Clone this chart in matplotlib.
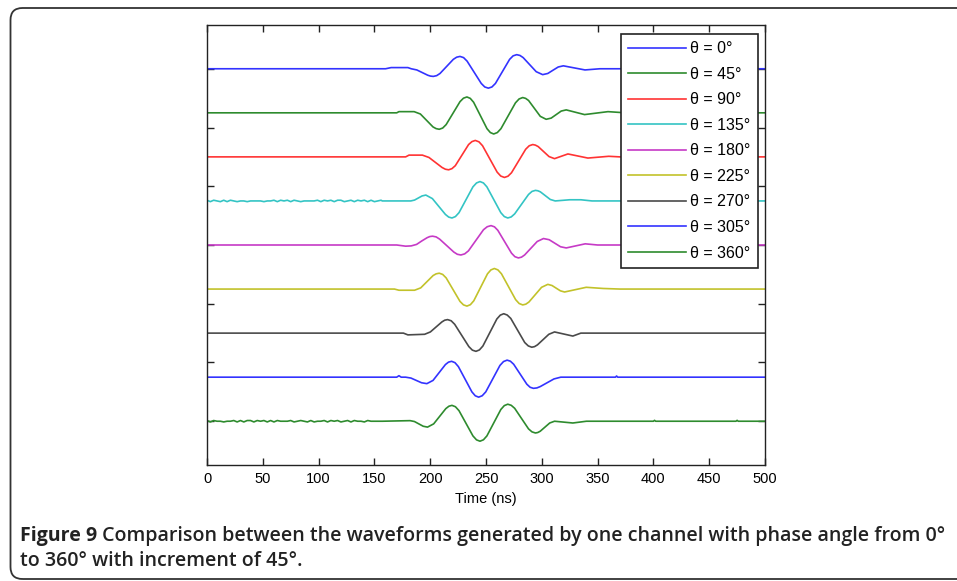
import numpy as np
import matplotlib
matplotlib.use('Agg')
import matplotlib.pyplot as plt
from matplotlib import font_manager
from matplotlib.patches import FancyBboxPatch
from matplotlib.transforms import IdentityTransform

# ---------------- data ----------------
labels = ['θ = 0°', 'θ = 45°', 'θ = 90°', 'θ = 135°', 'θ = 180°',
          'θ = 225°', 'θ = 270°', 'θ = 305°', 'θ = 360°']
offsets = [3, 2.25, 1.5, 0.75, 0, -0.75, -1.5, -2.25, -3]

t0 = [0, 160, 165, 180, 183, 188, 192.9, 197.8, 202.8, 208.8, 214.75, 220.7, 226.7, 233.05, 239.4, 245.75,
      252.1, 258.45, 264.8, 271.15, 277.5, 283.3, 289.15, 295, 300.8, 305.4, 310, 314.7, 319.3, 329, 338.7, 352, 500]
a0 = [0, 0, 0.02, 0.02, 0, -0.02, -0.065, -0.11, -0.13, -0.08, 0.04, 0.16, 0.21, 0.13, -0.06, -0.25,
      -0.33, -0.25, -0.045, 0.16, 0.24, 0.19, 0.07, -0.05, -0.10, -0.08, -0.025, 0.03, 0.05, 0.015, -0.02, 0, 0]
# shoulder points read around the crests
s0_t = [200.3, 205.8, 223.7, 229.9, 248.9, 255.3, 274.3, 280.4]
s0_a = [-0.125, -0.117, 0.197, 0.19, -0.31, -0.31, 0.22, 0.227]

t45 = [0, 170, 172, 185.6, 191.2, 196.85, 202.5, 208.1, 214.3, 220.5, 226.7, 232.9, 238.9, 244.9, 250.9, 256.9,
       263.4, 269.9, 276.4, 282.9, 288.15, 293.4, 298.65, 303.9, 308.4, 312.9, 317.4, 321.9, 330.1, 338.3,
       348.8, 359.3, 375, 500]
a45 = [0, 0, 0.02, 0.02, -0.02, -0.13, -0.24, -0.28, -0.20, -0.005, 0.19, 0.27, 0.18, -0.045, -0.27, -0.36,
       -0.27, -0.05, 0.17, 0.26, 0.21, 0.075, -0.06, -0.11, -0.09, -0.03, 0.03, 0.05, 0.01, -0.03,
       -0.005, 0.02, 0, 0]
s45_t = [205.3, 211.2, 229.8, 235.9, 253.9, 260.15, 279.65, 285.5]
s45_a = [-0.269, -0.259, 0.249, 0.246, -0.336, -0.336, 0.236, 0.246]

t90 = [0, 178, 181, 193, 198.9, 204.75, 210.6, 216.5, 222.5, 228.45, 234.4, 240.4, 246.9, 253.45, 260, 266.5,
       272.85, 279.2, 285.55, 291.9, 296.8, 301.65, 306.5, 311.4, 317.4, 323.4, 332.35, 341.3, 360, 370, 500]
a90 = [0, 0, 0.03, 0.03, -0.01, -0.095, -0.18, -0.22, -0.15, 0.03, 0.21, 0.28, 0.19, -0.035, -0.26, -0.35,
       -0.27, -0.07, 0.13, 0.21, 0.175, 0.09, 0.005, -0.03, 0.01, 0.05, 0.015, -0.02, 0.01, 0, 0]
s90_t = [213.6, 219.5, 237.4, 243.7, 263.2, 269.7, 288.7, 294.3]
s90_a = [-0.21, -0.20, 0.26, 0.256, -0.326, -0.329, 0.189, 0.20]

t135 = [157, 182.6, 186, 189.35, 192.7, 196.1, 201.95, 207.8, 213.65, 219.5, 225.8, 232.05, 238.3, 244.6,
        250.8, 257.05, 263.3, 269.5, 275.7, 281.9, 288.1, 294.3, 298.7, 303.15, 307.6, 312, 325, 335, 345, 500]
a135 = [0, 0, 0.015, 0.05, 0.085, 0.10, 0.04, -0.095, -0.23, -0.29, -0.20, 0.02, 0.24, 0.33,
        0.24, 0.02, -0.20, -0.29, -0.22, -0.055, 0.11, 0.18, 0.155, 0.09, 0.025, 0, 0.02, 0.02, 0, 0]
s135_t = [216.6, 222.6, 241.5, 247.7, 266.4, 272.6, 291.2, 296.5]
s135_a = [-0.275, -0.266, 0.306, 0.306, -0.266, -0.272, 0.162, 0.173]

t180 = [0, 170, 178, 183, 187.8, 192.55, 197.3, 202.1, 208.45, 214.8, 221.15, 227.5, 234.25, 241, 247.75, 254.5,
        260.6, 266.75, 272.9, 279, 284.6, 290.25, 295.9, 301.5, 306.6, 311.7, 316.8, 321.9, 330.4, 338.9, 350, 500]
a180 = [0, 0, -0.02, -0.015, 0.01, 0.07, 0.125, 0.15, 0.10, -0.01, -0.12, -0.17, -0.10, 0.08, 0.26, 0.33,
        0.25, 0.055, -0.14, -0.22, -0.17, -0.055, 0.06, 0.11, 0.09, 0.03, -0.03, -0.05, -0.015, 0.02, 0, 0]
s180_t = [199.7, 205.3, 224.3, 230.9, 251.1, 257.6, 275.9, 281.8]
s180_a = [0.144, 0.138, -0.158, -0.151, 0.311, 0.309, -0.199, -0.207]

t225 = [0, 168, 172, 186, 191.5, 197.05, 202.6, 208.1, 214.3, 220.5, 226.7, 232.9, 239.05, 245.2, 251.35, 257.5,
        263.85, 270.2, 276.55, 282.9, 288.5, 294.15, 299.8, 305.4, 309.2, 312.9, 316.65, 320.4, 330.1, 339.8,
        355, 370, 500]
a225 = [0, 0, -0.02, -0.02, 0.02, 0.125, 0.23, 0.27, 0.19, -0.01, -0.21, -0.29, -0.20, 0.03, 0.26, 0.35,
        0.26, 0.04, -0.18, -0.27, -0.22, -0.095, 0.03, 0.08, 0.06, 0.015, -0.03, -0.05, -0.01, 0.03,
        0.01, 0, 0]
s225_t = [205.3, 211.2, 229.8, 236.0, 254.4, 260.7, 279.7, 285.7]
s225_a = [0.259, 0.249, -0.269, -0.266, 0.326, 0.326, -0.246, -0.257]

t270 = [0, 176, 180, 195, 200.15, 205.3, 210.45, 215.6, 221.95, 228.3, 234.65, 241, 247.2, 253.45, 259.7, 265.9,
        272.2, 278.45, 284.7, 291, 296.1, 301.2, 306.3, 311.4, 319.6, 327.8, 335, 500]
a270 = [0, 0, -0.03, -0.02, 0.02, 0.105, 0.19, 0.23, 0.15, -0.04, -0.23, -0.31, -0.22, 0.01, 0.24, 0.33,
        0.25, 0.045, -0.16, -0.24, -0.20, -0.11, -0.02, 0.02, -0.015, -0.05, 0, 0]
s270_t = [213.0, 218.8, 237.8, 244.1, 262.8, 269.0, 287.9, 293.5]
s270_a = [0.22, 0.21, -0.29, -0.286, 0.306, 0.308, -0.218, -0.23]

t305 = [0, 170, 172, 174, 178, 182.75, 187.5, 192.25, 197, 202.55, 208.1, 213.65, 219.2, 225.25, 231.3, 237.35,
        243.4, 249.8, 256.15, 262.5, 268.9, 274.8, 280.7, 286.6, 292.5, 298.6, 304.75, 310.9, 317, 366, 367, 368, 500]
a305 = [0, 0, 0.025, 0, 0, -0.015, -0.055, -0.095, -0.11, -0.055, 0.08, 0.215, 0.27, 0.18, -0.035, -0.25,
        -0.34, -0.25, -0.025, 0.20, 0.29, 0.22, 0.05, -0.12, -0.19, -0.16, -0.095, -0.03, 0, 0, 0.02, 0, 0]
s305_t = [216.4, 222.2, 240.4, 246.6, 265.7, 271.85, 289.55, 295.6]
s305_a = [0.256, 0.247, -0.317, -0.316, 0.266, 0.272, -0.172, -0.183]

t360 = [157, 182, 185.9, 189.8, 193.7, 197.6, 203.1, 208.55, 214, 219.5, 225.8, 232.05, 238.3, 244.6,
        250.8, 257.05, 263.3, 269.5, 275.7, 281.9, 288.1, 294.3, 298.6, 302.85, 307.1, 311.4, 319.6, 327.8,
        340, 400, 401, 402, 474, 475, 476, 500]
a360 = [0, 0.01, -0.005, -0.045, -0.085, -0.10, -0.045, 0.085, 0.215, 0.27, 0.18, -0.035, -0.25, -0.34,
        -0.25, -0.025, 0.20, 0.29, 0.22, 0.045, -0.13, -0.20, -0.17, -0.10, -0.03, 0, -0.015, -0.03,
        0, 0, 0.015, 0, 0, 0.015, 0, 0]
s360_t = [216.8, 222.6, 241.5, 247.7, 266.4, 272.6, 291.2, 296.4]
s360_a = [0.256, 0.247, -0.317, -0.316, 0.266, 0.271, -0.181, -0.192]

# baseline jitter read from the flat start of the noisy traces (in steps of noise_unit, one per 3 ns)
noise_unit = 0.012
noise_step_ns = 3.0
cyan_noise = [1, -1, 1, 0, -1, 1, -1, 1, 0, -1,
              0, 0, -1, 0, 0, 0, 0, -1, 0, 0,
              1, -1, 1, 0, 1, -1, 1, 0, -1,
              0, 0, 0, 0,
              1, -1, 1, 0, 1, -1, 1, 1, -1, 0, 1, -1, 1, 0, 1, -1, 1, -1, 0, 1]
green_noise = [1, -1, 1, 0, 0, -1, 0, 0, 1, -1,
               1, -1, 1, 1, -1, 1, 0, 1, -1, 1,
               -1, 1, 0, 0, 0, 1, -1, 0, 1, 0,
               -1, 1, -1, 0, 0, 1, -1, 1, 0, 1,
               -1, 0, 1, -1, 1, 0, 0, -1, 1, 0,
               0, 0, 0]

xticks = list(range(0, 501, 50))
yticks = [-3, -2, -1, 0, 1, 2, 3]

colors = ['#3333ff', '#2e8b2e', '#ff3333', '#33c4c4', '#c63ac6',
          '#c2c22a', '#4a4a4a', '#3333ff', '#2e8b2e']

# ---------------- fonts ----------------
names = {f.name for f in font_manager.fontManager.ttflist}
def pick(*cands):
    for n in cands:
        if n in names:
            return n
    return 'DejaVu Sans'
AX_FONT = pick('Liberation Sans Narrow', 'Liberation Sans', 'DejaVu Sans')
CAP_FONT = pick('Open Sans', 'Lato', 'Noto Sans')

# ---------------- build series ----------------
def merge(t, a, st, sa, noise=None):
    pts = list(zip(t, a)) + list(zip(st, sa))
    if noise is not None:
        pts += [(i * noise_step_ns, v * noise_unit) for i, v in enumerate(noise)]
    pts.sort(key=lambda p: p[0])
    return [p[0] for p in pts], [p[1] for p in pts]

series = [merge(t0, a0, s0_t, s0_a), merge(t45, a45, s45_t, s45_a), merge(t90, a90, s90_t, s90_a),
          merge(t135, a135, s135_t, s135_a, cyan_noise), merge(t180, a180, s180_t, s180_a),
          merge(t225, a225, s225_t, s225_a), merge(t270, a270, s270_t, s270_a),
          merge(t305, a305, s305_t, s305_a), merge(t360, a360, s360_t, s360_a, green_noise)]

# ---------------- figure ----------------
W, H = 957, 581
fig = plt.figure(figsize=(W / 100, H / 100), dpi=100)
fig.patch.set_facecolor('white')

frame = FancyBboxPatch((10.5, 2), 1000, 571, boxstyle='round,pad=0,rounding_size=12',
                       transform=IdentityTransform(), fill=False, edgecolor='#333333', linewidth=1.3)
fig.add_artist(frame)

ax = fig.add_axes([207 / W, 1 - 465 / H, 558 / W, 440 / H])
for (t, a), off, c, lab in zip(series, offsets, colors, labels):
    ax.plot(t, np.asarray(a) + off, color=c, lw=1.2, label=lab, solid_joinstyle='round')

ax.set_xlim(0, 500)
ax.set_ylim(-3.745, 3.745)
ax.set_xticks(xticks)
ax.set_xticklabels([str(v) for v in xticks], family=AX_FONT, fontsize=10.5)
ax.set_yticks(yticks)
ax.tick_params(axis='both', direction='in', top=True, right=True, length=5, width=1.0,
               color='#222222', pad=5)
ax.tick_params(axis='y', labelleft=False)
for s in ax.spines.values():
    s.set_color('#222222')
    s.set_linewidth(1.0)
ax.set_xlabel('Time (ns)', family=AX_FONT, fontsize=10.5, labelpad=4)

leg = ax.legend(loc='upper right', bbox_to_anchor=((758 - 207) / 558, (465 - 34) / 440),
                borderaxespad=0, prop={'family': AX_FONT, 'size': 11.5},
                handlelength=3.6, handletextpad=0.3, labelspacing=0.66, borderpad=0.45,
                fancybox=False, framealpha=1, edgecolor='#222222')
leg.get_frame().set_linewidth(1.2)

# ---------------- caption ----------------
renderer = fig.canvas.get_renderer()
fs = 12.5
y1 = 1 - 536 / H
y2 = 1 - 561 / H
part_a = 'Figure 9'
part_b = ' Comparison between the waveforms generated by one channel with phase angle from 0°'
line2 = 'to 360° with increment of 45°.'

ta = fig.text(20 / W, y1, part_a, family=CAP_FONT, fontweight='bold', fontsize=fs, va='center', color='#222222')
tb = fig.text(0, y1, part_b, family=CAP_FONT, fontweight='semibold', fontsize=fs, va='center', color='#222222')
wa = ta.get_window_extent(renderer).width
wb = tb.get_window_extent(renderer).width
fs = fs * 925.0 / (wa + wb)
ta.set_fontsize(fs)
tb.set_fontsize(fs)
wa = ta.get_window_extent(renderer).width
tb.set_x((20 + wa) / W)
fig.text(20 / W, y2, line2, family=CAP_FONT, fontweight='semibold', fontsize=fs, va='center', color='#222222')

fig.savefig('out.png', dpi=100)
